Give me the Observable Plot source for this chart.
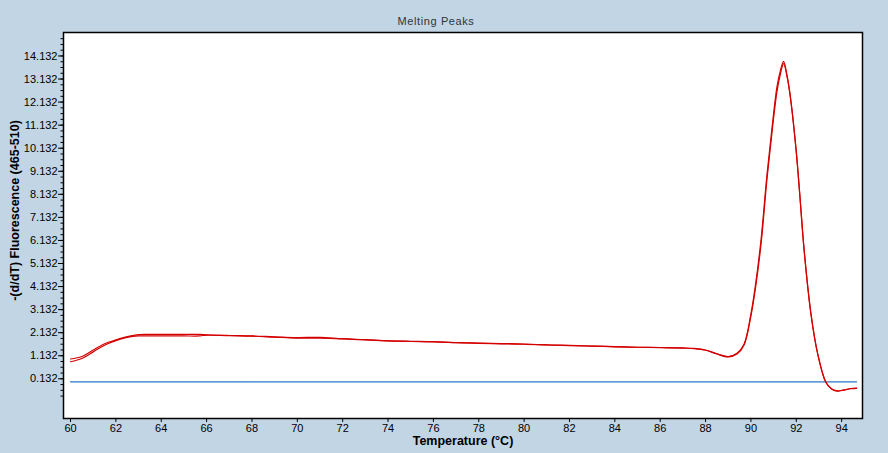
<!DOCTYPE html>
<html>
<head>
<meta charset="utf-8">
<script src="https://cdn.jsdelivr.net/npm/d3@7"></script>
<script src="https://cdn.jsdelivr.net/npm/@observablehq/plot@0.6"></script>
<style>
  html, body { margin: 0; padding: 0; background: #C2D5E5; }
  #chart svg { overflow: visible; }
</style>
</head>
<body>
<div id="chart"></div>
<script>
const title = "Melting Peaks";
const xLabel = "Temperature (°C)";
const yLabel = "-(d/dT) Fluorescence (465-510)";

const temps = [60, 60.5, 61, 61.5, 62, 62.5, 63, 63.5, 64, 65, 65.7, 66, 67, 68, 69, 70, 71, 72, 73, 74, 75, 76, 77, 78, 79, 80, 81, 82, 83, 84, 85, 86, 87, 87.5, 88, 88.5, 89, 89.4, 89.7, 90, 90.2, 90.45, 90.7, 90.95, 91.15, 91.3, 91.44, 91.6, 91.75, 92, 92.15, 92.35, 92.65, 92.95, 93.3, 93.55, 93.8, 94.1, 94.4, 94.66];

const sampleA = [0.99, 1.10, 1.38, 1.65, 1.82, 1.96, 2.05, 2.06, 2.06, 2.06, 2.06, 2.04, 2.01, 1.99, 1.95, 1.92, 1.93, 1.87, 1.83, 1.78, 1.76, 1.74, 1.70, 1.68, 1.66, 1.64, 1.60, 1.58, 1.55, 1.53, 1.50, 1.49, 1.47, 1.45, 1.38, 1.22, 1.09, 1.25, 1.64, 2.95, 4.2, 6.2, 8.9, 11.2, 12.8, 13.5, 13.9, 13.25, 12.3, 10.0, 8.2, 5.7, 2.95, 1.2, 0.0, -0.3, -0.39, -0.35, -0.29, -0.27];

const sampleB = [0.87, 1.01, 1.30, 1.59, 1.79, 1.93, 1.99, 1.99, 1.99, 1.99, 1.99, 2.03, 2.00, 1.98, 1.94, 1.90, 1.89, 1.86, 1.82, 1.78, 1.75, 1.73, 1.70, 1.67, 1.65, 1.63, 1.60, 1.57, 1.55, 1.52, 1.50, 1.48, 1.46, 1.44, 1.37, 1.21, 1.08, 1.22, 1.60, 2.85, 4.05, 6.0, 8.7, 11.0, 12.6, 13.35, 13.8, 13.2, 12.25, 9.95, 8.15, 5.65, 2.9, 1.18, -0.02, -0.31, -0.40, -0.36, -0.30, -0.28];

const baselineT = [60, 94.66];
const baselineV = [0, 0];

const xTicks = [60, 62, 64, 66, 68, 70, 72, 74, 76, 78, 80, 82, 84, 86, 88, 90, 92, 94];
const yTicks = [0.132, 1.132, 2.132, 3.132, 4.132, 5.132, 6.132, 7.132, 8.132, 9.132, 10.132, 11.132, 12.132, 13.132, 14.132];
const yMinorStep = 0.25;

const rows = [];
temps.forEach((t, i) => {
  rows.push({T: t, v: sampleA[i], s: "A"});
  rows.push({T: t, v: sampleB[i], s: "B"});
});
const baseRows = baselineT.map((t, i) => ({T: t, v: baselineV[i]}));
const yMinor = d3.range(-3, 60).map(k => 0.132 + k * yMinorStep).filter(v => v < 15);

const chart = Plot.plot({
  width: 888,
  height: 453,
  marginLeft: 63,
  marginRight: 26,
  marginTop: 32,
  marginBottom: 35,
  style: {background: "#C2D5E5", fontFamily: "'Liberation Sans', Arial, sans-serif", fontSize: "11px", color: "black"},
  x: {domain: [59.69, 94.92]},
  y: {domain: [-1.59, 15.15]},
  marks: [
    Plot.frame({fill: "white"}),
    Plot.axisY({ticks: yMinor, tickSize: 2.5, text: null, label: null}),
    Plot.axisY({ticks: yTicks, tickSize: 5, tickPadding: 1, tickFormat: d => d.toFixed(3), label: null, fontSize: 11}),
    Plot.axisX({ticks: xTicks, tickSize: 4, tickPadding: 2, tickFormat: d => String(d), label: null, fontSize: 11}),
    Plot.line(baseRows, {x: "T", y: "v", stroke: "#2A78C8", strokeWidth: 1.2}),
    Plot.line(rows, {x: "T", y: "v", z: "s", stroke: "#D40000", strokeWidth: 1.2, curve: "catmull-rom"}),
    Plot.frame({stroke: "black", strokeWidth: 1.5}),
    Plot.text([title], {frameAnchor: "top", dx: -27, dy: -15, fill: "#333", fontSize: 11, text: d => d}),
    Plot.text([xLabel], {frameAnchor: "bottom", dy: 26, fontWeight: "bold", fontSize: 12.5, text: d => d}),
    Plot.text([yLabel], {frameAnchor: "left", textAnchor: "middle", dx: -49, dy: -15, rotate: -90, fontWeight: "bold", fontSize: 12.5, text: d => d})
  ]
});
document.getElementById("chart").appendChild(chart);
d3.select(chart).selectAll("text").filter(function() { return this.textContent === title; }).style("letter-spacing", "0.6px");
</script>
</body>
</html>
